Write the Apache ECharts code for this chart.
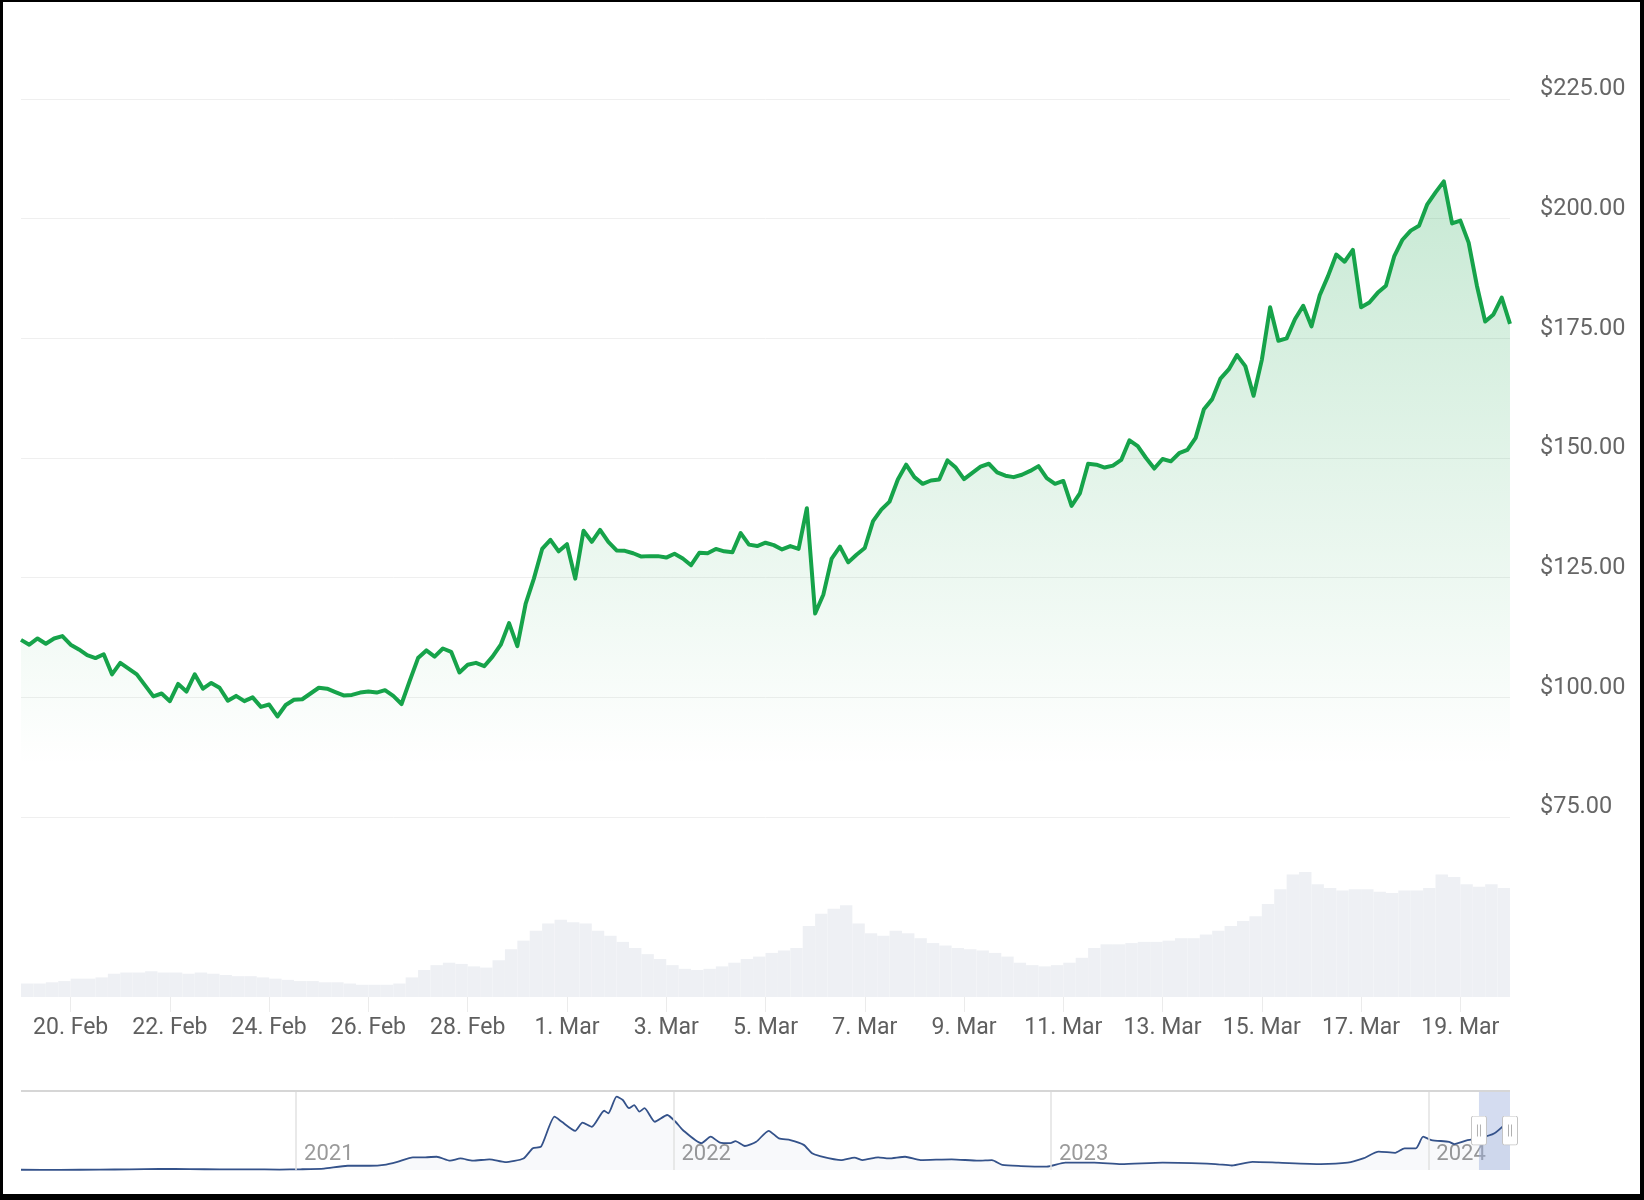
<!DOCTYPE html>
<html>
<head>
<meta charset="utf-8">
<script src="https://cdn.jsdelivr.net/npm/echarts@6/dist/echarts.min.js"></script>
<style>
html,body{margin:0;padding:0;background:#fff;}
#chart{width:1644px;height:1200px;}
#frame{position:absolute;left:0;top:0;width:1644px;height:1200px;box-sizing:border-box;border-style:solid;border-color:#000;border-width:2px 4px 6px 3px;pointer-events:none;}
</style>
</head>
<body>
<div id="chart"></div>
<div id="frame"></div>
<script>
// ---- price, every 4 hours from 19 Feb 2024 00:00 UTC ----
const priceStart = '2024-02-19T00:00:00Z';
const priceStepHours = 4;
const prices = [
112.0,111.0,112.3,111.2,112.3,112.8,111.0,110.0,108.8,108.2,
109.0,104.8,107.2,106.0,104.8,102.5,100.2,100.8,99.2,102.8,
101.2,104.8,101.8,103.0,102.0,99.3,100.3,99.2,100.0,98.0,
98.5,96.0,98.4,99.5,99.6,100.8,102.0,101.8,101.1,100.4,
100.5,101.0,101.2,101.0,101.5,100.3,98.6,103.5,108.2,109.8,
108.5,110.2,109.5,105.2,106.8,107.2,106.5,108.5,111.0,115.5,
110.7,119.5,124.8,131.0,132.9,130.5,132.0,124.8,134.8,132.5,
135.0,132.5,130.7,130.6,130.1,129.4,129.5,129.5,129.2,130.0,
129.0,127.6,130.2,130.1,131.0,130.5,130.3,134.3,131.9,131.6,
132.3,131.8,130.9,131.6,131.0,139.5,117.5,121.5,129.0,131.5,
128.2,129.8,131.2,136.8,139.2,140.9,145.5,148.6,146.0,144.6,
145.3,145.5,149.5,148.0,145.6,146.9,148.2,148.8,147.0,146.3,
146.0,146.5,147.3,148.3,145.8,144.6,145.2,140.0,142.6,148.8,
148.6,148.0,148.4,149.6,153.7,152.5,150.0,147.8,149.8,149.3,
151.0,151.7,154.2,160.2,162.3,166.6,168.5,171.5,169.2,163.0,
170.5,181.5,174.5,175.0,179.0,181.8,177.5,184.0,188.0,192.5,
191.0,193.5,181.5,182.5,184.5,186.0,192.1,195.6,197.5,198.5,
203.0,205.5,207.8,199.0,199.6,195.0,186.0,178.5,180.0,183.5,
178.0
];

// ---- volume (billions USD), one bar per 6-hour slot ----
const volumeStepHours = 6;
const volumes = [
1.1,1.1,1.2,1.3,1.5,1.5,1.6,1.9,2.0,2.0,
2.1,2.0,2.0,1.9,2.0,1.9,1.8,1.7,1.7,1.6,
1.5,1.4,1.3,1.3,1.2,1.2,1.1,1.0,1.0,1.0,
1.1,1.6,2.2,2.6,2.8,2.7,2.5,2.4,3.0,3.9,
4.6,5.4,6.0,6.3,6.1,6.0,5.4,5.0,4.5,4.0,
3.5,3.1,2.6,2.3,2.2,2.3,2.5,2.8,3.1,3.3,
3.6,3.8,4.0,5.8,6.8,7.2,7.5,6.0,5.2,5.0,
5.4,5.2,4.8,4.4,4.2,4.0,3.9,3.8,3.6,3.3,
2.8,2.6,2.5,2.6,2.8,3.2,4.0,4.3,4.3,4.4,
4.5,4.5,4.6,4.8,4.8,5.1,5.4,5.8,6.2,6.6,
7.6,8.8,10.0,10.2,9.2,8.9,8.7,8.8,8.8,8.6,
8.5,8.7,8.7,8.9,10.0,9.8,9.2,9.0,9.2,8.9
];

const rangeStart = '2024-02-19';
const rangeEnd = '2024-03-20';
const xTickDates = ['2024-02-20','2024-02-22','2024-02-24','2024-02-26','2024-02-28','2024-03-01','2024-03-03','2024-03-05','2024-03-07','2024-03-09','2024-03-11','2024-03-13','2024-03-15','2024-03-17','2024-03-19'];
const yTickValues = [75,100,125,150,175,200,225];
const monthNames = ['Jan','Feb','Mar','Apr','May','Jun','Jul','Aug','Sep','Oct','Nov','Dec'];

// ---- full history (overview strip) ----
const historyStart = '2020-04-10';
const historyEnd = '2024-03-20';
const historyDates = [
'2020-04-10','2020-05-18','2020-06-25','2020-07-24','2020-08-22','2020-09-20','2020-10-19','2020-11-17','2020-12-16',
'2021-01-05','2021-01-28','2021-02-20','2021-03-13','2021-03-27','2021-04-09','2021-04-24','2021-05-06','2021-05-17',
'2021-05-30','2021-06-09','2021-06-21','2021-07-07','2021-07-22','2021-08-09','2021-08-18','2021-08-26','2021-09-08',
'2021-09-15','2021-09-28','2021-10-05','2021-10-14','2021-10-26','2021-10-30','2021-11-07','2021-11-13','2021-11-19',
'2021-11-24','2021-11-29','2021-12-04','2021-12-14','2021-12-26','2022-01-03','2022-01-10','2022-01-28','2022-02-06',
'2022-02-15','2022-02-25','2022-03-02','2022-03-11','2022-03-22','2022-04-03','2022-04-13','2022-04-24','2022-05-07',
'2022-05-15','2022-05-22','2022-06-12','2022-06-25','2022-07-03','2022-07-18','2022-07-28','2022-08-13','2022-08-28',
'2022-09-27','2022-10-23','2022-11-05','2022-11-15','2022-12-03','2022-12-28','2023-01-15','2023-02-12','2023-03-10',
'2023-04-19','2023-06-09','2023-06-25','2023-07-15','2023-08-09','2023-09-19','2023-10-15','2023-10-30','2023-11-14',
'2023-11-30','2023-12-09','2023-12-20','2023-12-27','2024-01-04','2024-01-21','2024-01-26','2024-02-08','2024-02-19',
'2024-03-05','2024-03-18','2024-03-20'
];
const historyPrices = [
0.8,0.7,1.2,2.5,4.0,3.0,2.4,2.2,1.6,
2.5,5,15,15,18,29,45,45,47,
33,41,33,38,28,41,77,83,189,
171,139,168,153,210,201,260,248,219,
230,207,219,171,195,171,142,95,118,
97,95,102,85,100,139,112,106,89,
59,50,35,44,35,45,41,47,35,
38,33,35,18,14,12,26,26,21,
26,21,16,29,26,21,26,41,65,
61,77,77,118,106,100,92,106,112,
130,171,178
];
const yearTicks = ['2021-01-01','2022-01-01','2023-01-01','2024-01-01'];

// ---- build ----
const HOUR = 3600000;
const T0 = Date.parse(rangeStart + 'T00:00:00Z');
const T1 = Date.parse(rangeEnd + 'T00:00:00Z');
const p0 = Date.parse(priceStart);
const priceData = prices.map((v, i) => [p0 + i * priceStepHours * HOUR, v]);
// bars sit in the middle of their 6-hour slot
const volumeData = volumes.map((v, i) => [p0 + (i + 0.5) * volumeStepHours * HOUR, v]);
const xTicks = xTickDates.map(d => Date.parse(d + 'T00:00:00Z'));
const H0 = Date.parse(historyStart + 'T00:00:00Z');
const H1 = Date.parse(historyEnd + 'T00:00:00Z');
const historyData = historyDates.map((d, i) => [Date.parse(d + 'T00:00:00Z'), historyPrices[i]]);
const yearTickValues = yearTicks.map(d => Date.parse(d + 'T00:00:00Z'));

const handleSvg = "<svg xmlns='http://www.w3.org/2000/svg' width='16' height='30'><rect x='0.5' y='0.5' width='15' height='29' rx='2' fill='white' stroke='#c4c4c4'/><line x1='6.5' y1='9' x2='6.5' y2='21' stroke='#b0b0b0'/><line x1='9.5' y1='9' x2='9.5' y2='21' stroke='#b0b0b0'/></svg>";
const handleIcon = 'image://data:image/svg+xml;charset=utf-8,' + encodeURIComponent(handleSvg);

const FONT = 'Roboto';
const chart = echarts.init(document.getElementById('chart'), null, {renderer: 'canvas'});
const option = {
  animation: false,
  backgroundColor: '#ffffff',
  grid: [
    {left: 21, right: 134, top: 99, height: 718},
    {left: 21, right: 134, top: 850, height: 147},
    {left: 21, right: 134, top: 1091, height: 79}
  ],
  xAxis: [
    {gridIndex: 0, type: 'value', min: T0, max: T1, show: false},
    {gridIndex: 1, type: 'value', min: T0, max: T1,
      axisLine: {show: false}, splitLine: {show: false},
      axisTick: {show: true, length: 15, lineStyle: {color: '#ebebeb'}, customValues: xTicks},
      axisLabel: {customValues: xTicks, color: '#5f5f5f', fontSize: 23, fontFamily: FONT, margin: 20,
        formatter: v => { const d = new Date(v); return d.getUTCDate() + '. ' + monthNames[d.getUTCMonth()]; }}
    },
    {gridIndex: 2, type: 'value', min: H0, max: H1,
      axisLine: {show: false}, axisTick: {show: false}, splitLine: {show: false},
      axisLabel: {customValues: yearTickValues, inside: true, align: 'left', padding: [0, 0, 0, 8],
        color: '#9a9a9a', fontSize: 22, fontFamily: FONT, margin: 5,
        formatter: v => String(new Date(v).getUTCFullYear())}
    }
  ],
  yAxis: [
    {gridIndex: 0, type: 'value', min: 75, max: 225, interval: 25, position: 'right',
      axisLine: {show: false}, axisTick: {show: false},
      splitLine: {lineStyle: {color: '#efefef', width: 1}},
      axisLabel: {customValues: yTickValues, verticalAlign: 'middle', margin: 30,
        formatter: v => '{p|$' + Number(v).toFixed(2) + '}',
        rich: {p: {color: '#666666', fontSize: 23.5, fontFamily: FONT, padding: [0, 0, 19, 0]}}
      }
    },
    {gridIndex: 1, type: 'value', min: 0, max: 12, show: false},
    {gridIndex: 2, type: 'value', min: 0, max: 280, show: false}
  ],
  series: [
    {
      type: 'bar', xAxisIndex: 1, yAxisIndex: 1, data: volumeData, clip: true,
      barWidth: 12.4, itemStyle: {color: '#eef0f4'}, silent: true
    },
    {
      type: 'line', xAxisIndex: 0, yAxisIndex: 0, data: priceData,
      showSymbol: false, smooth: false,
      lineStyle: {color: '#16a34a', width: 4, join: 'round'},
      itemStyle: {color: '#16a34a'},
      areaStyle: {color: new echarts.graphic.LinearGradient(0, 0, 0, 1, [
        {offset: 0, color: 'rgba(22,163,74,0.34)'},
        {offset: 0.92, color: 'rgba(22,163,74,0)'},
        {offset: 1, color: 'rgba(22,163,74,0)'}
      ])}
    },
    {
      type: 'line', xAxisIndex: 2, yAxisIndex: 2, data: historyData,
      showSymbol: false, smooth: 0.2,
      lineStyle: {color: '#34528a', width: 1.8},
      areaStyle: {color: 'rgba(52,82,138,0.05)'},
      markLine: {
        silent: true, symbol: 'none', label: {show: false},
        lineStyle: {color: '#e2e2e2', width: 1.5, type: 'solid'},
        data: yearTickValues.map(v => ({xAxis: v})).concat([{yAxis: 280, lineStyle: {color: '#d6d6d6', width: 2}}])
      },
      markArea: {
        silent: true,
        itemStyle: {color: 'rgba(160,178,222,0.45)'},
        data: [[{xAxis: T0}, {xAxis: T1}]]
      },
      markPoint: {
        silent: true, symbol: handleIcon, symbolSize: [16, 30], label: {show: false},
        data: [{coord: [T0, 140]}, {coord: [T1, 140]}]
      }
    }
  ]
};
chart.setOption(option);
</script>
</body>
</html>
